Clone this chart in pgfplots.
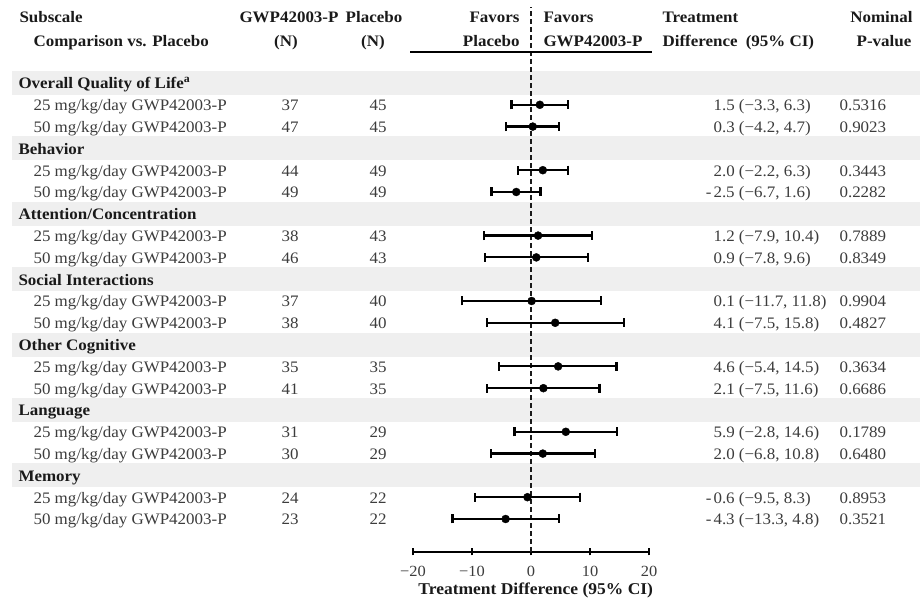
\documentclass[border=0pt]{standalone}
\usepackage{fontspec}
\setmainfont{Liberation Serif}[FakeStretch=1.06]
\usepackage{pgfplots}
\usepackage{pgfplotstable}
\pgfplotsset{compat=1.18}
\definecolor{band}{HTML}{EFEFEF}
\definecolor{txt}{HTML}{3C3C3C}
\definecolor{hdr}{HTML}{1A1A1A}

% y = 604 - pixel row; est = treatment difference; em/ep = distance to CI limits
\pgfplotstableread{
y     est   em    ep
499.2  1.5  4.8   4.8
477.4  0.3  4.5   4.4
433.8  2.0  4.2   4.3
412.0 -2.5  4.2   4.1
368.4  1.2  9.1   9.2
346.6  0.9  8.7   8.7
303.0  0.1  11.8  11.7
281.2  4.1  11.6  11.7
237.6  4.6  10.0  9.9
215.8  2.1  9.6   9.5
172.2  5.9  8.7   8.7
150.4  2.0  8.8   8.8
106.8 -0.6  8.9   8.9
85.0  -4.3  9.0   9.1
}\forestdata

\newcommand\grp[2]{\node[anchor=base west, font=\bfseries, text=hdr] at (13,{#1+6}) {#2};}
\newcommand\dose[6]{%
  \node[anchor=base west, text=txt] at (28,{#1+6}) {#2};
  \node[anchor=base, text=txt] at (290,{#1+6}) {#3};
  \node[anchor=base, text=txt] at (378,{#1+6}) {#4};
  \node[anchor=base west, text=txt] at (708,{#1+6}) {#5};
  \node[anchor=base west, text=txt] at (834,{#1+6}) {#6};}
\newcommand\negs{\makebox[0pt][r]{-\kern2pt}}

\begin{document}
\fontsize{16}{18}\selectfont
\begin{tikzpicture}
\useasboundingbox (0,0) rectangle (920pt,604pt);
\begin{scope}[x=1pt,y=-1pt,yshift=604pt]
  \foreach \c in {83,148.4,213.8,279.2,344.6,410,475.4}
    \fill[band] (12,{\c-12}) rectangle (920,{\c+12});
\end{scope}

\begin{axis}[
  at={(413pt,52pt)}, anchor=south west,
  scale only axis, width=236pt, height=552pt,
  xmin=-20, xmax=20, ymin=52, ymax=604,
  axis x line=bottom, axis y line=none,
  axis line style={line width=2pt, black, -},
  xtick={-20,-10,0,10,20},
  xticklabels={−20,−10,0,10,20},
  major tick length=7pt, tick align=center,
  tick style={line width=2pt, black},
  xticklabel style={font=\fontsize{15.5}{16}\selectfont, text=txt, anchor=center, yshift=-16pt},
  xlabel={Treatment Difference (95\% CI)},
  xlabel style={font=\fontsize{16.5}{17}\selectfont\bfseries, text=hdr,
    at={(axis description cs:0.52,0)}, anchor=center, yshift=-38pt},
  clip=false,
]
\draw[line width=1.4pt, hdr, dash pattern=on 5pt off 3pt] (axis cs:0,52) -- (axis cs:0,597);
\addplot[only marks, mark=*, mark size=4pt, black,
  error bars/.cd, x dir=both, x explicit, error mark=|,
  error bar style={line width=2.2pt, black},
  error mark options={line width=2.2pt, mark size=4.5pt, black}]
  table[x=est, y=y, x error plus=ep, x error minus=em] {\forestdata};
\end{axis}

\begin{scope}[x=1pt,y=-1pt,yshift=604pt]
  % header
  \begin{scope}[every node/.style={font=\bfseries, text=hdr}]
  \node[anchor=base west] at (14,23) {Subscale};
  \node[anchor=base west] at (28,47) {Comparison vs. Placebo};
  \node[anchor=base] at (289,23) {GWP42003-P};
  \node[anchor=base] at (286,47) {(N)};
  \node[anchor=base] at (374,23) {Placebo};
  \node[anchor=base] at (373,47) {(N)};
  \node[anchor=base east] at (525,23) {Favors};
  \node[anchor=base east] at (525,47) {Placebo};
  \node[anchor=base west] at (538,23) {Favors};
  \node[anchor=base west] at (538,47) {GWP42003-P};
  \node[anchor=base west] at (657,23) {Treatment};
  \node[anchor=base west] at (657,47) {Difference\hspace{4pt} (95\% CI)};
  \node[anchor=base east] at (918,23) {Nominal};
  \node[anchor=base] at (884,47) {P-value};
  \end{scope}
  \draw[line width=2pt, black] (410,52) -- (652,52);

  \grp{83}{Overall Quality of Life\textsuperscript{a}}
  \dose{104.8}{25 mg/kg/day GWP42003-P}{37}{45}{1.5 (−3.3, 6.3)}{0.5316}
  \dose{126.6}{50 mg/kg/day GWP42003-P}{47}{45}{0.3 (−4.2, 4.7)}{0.9023}
  \grp{148.4}{Behavior}
  \dose{170.2}{25 mg/kg/day GWP42003-P}{44}{49}{2.0 (−2.2, 6.3)}{0.3443}
  \dose{192}{50 mg/kg/day GWP42003-P}{49}{49}{\negs 2.5 (−6.7, 1.6)}{0.2282}
  \grp{213.8}{Attention/Concentration}
  \dose{235.6}{25 mg/kg/day GWP42003-P}{38}{43}{1.2 (−7.9, 10.4)}{0.7889}
  \dose{257.4}{50 mg/kg/day GWP42003-P}{46}{43}{0.9 (−7.8, 9.6)}{0.8349}
  \grp{279.2}{Social Interactions}
  \dose{301}{25 mg/kg/day GWP42003-P}{37}{40}{0.1 (−11.7, 11.8)}{0.9904}
  \dose{322.8}{50 mg/kg/day GWP42003-P}{38}{40}{4.1 (−7.5, 15.8)}{0.4827}
  \grp{344.6}{Other Cognitive}
  \dose{366.4}{25 mg/kg/day GWP42003-P}{35}{35}{4.6 (−5.4, 14.5)}{0.3634}
  \dose{388.2}{50 mg/kg/day GWP42003-P}{41}{35}{2.1 (−7.5, 11.6)}{0.6686}
  \grp{410}{Language}
  \dose{431.8}{25 mg/kg/day GWP42003-P}{31}{29}{5.9 (−2.8, 14.6)}{0.1789}
  \dose{453.6}{50 mg/kg/day GWP42003-P}{30}{29}{2.0 (−6.8, 10.8)}{0.6480}
  \grp{475.4}{Memory}
  \dose{497.2}{25 mg/kg/day GWP42003-P}{24}{22}{\negs 0.6 (−9.5, 8.3)}{0.8953}
  \dose{519}{50 mg/kg/day GWP42003-P}{23}{22}{\negs 4.3 (−13.3, 4.8)}{0.3521}
\end{scope}
\end{tikzpicture}
\end{document}
